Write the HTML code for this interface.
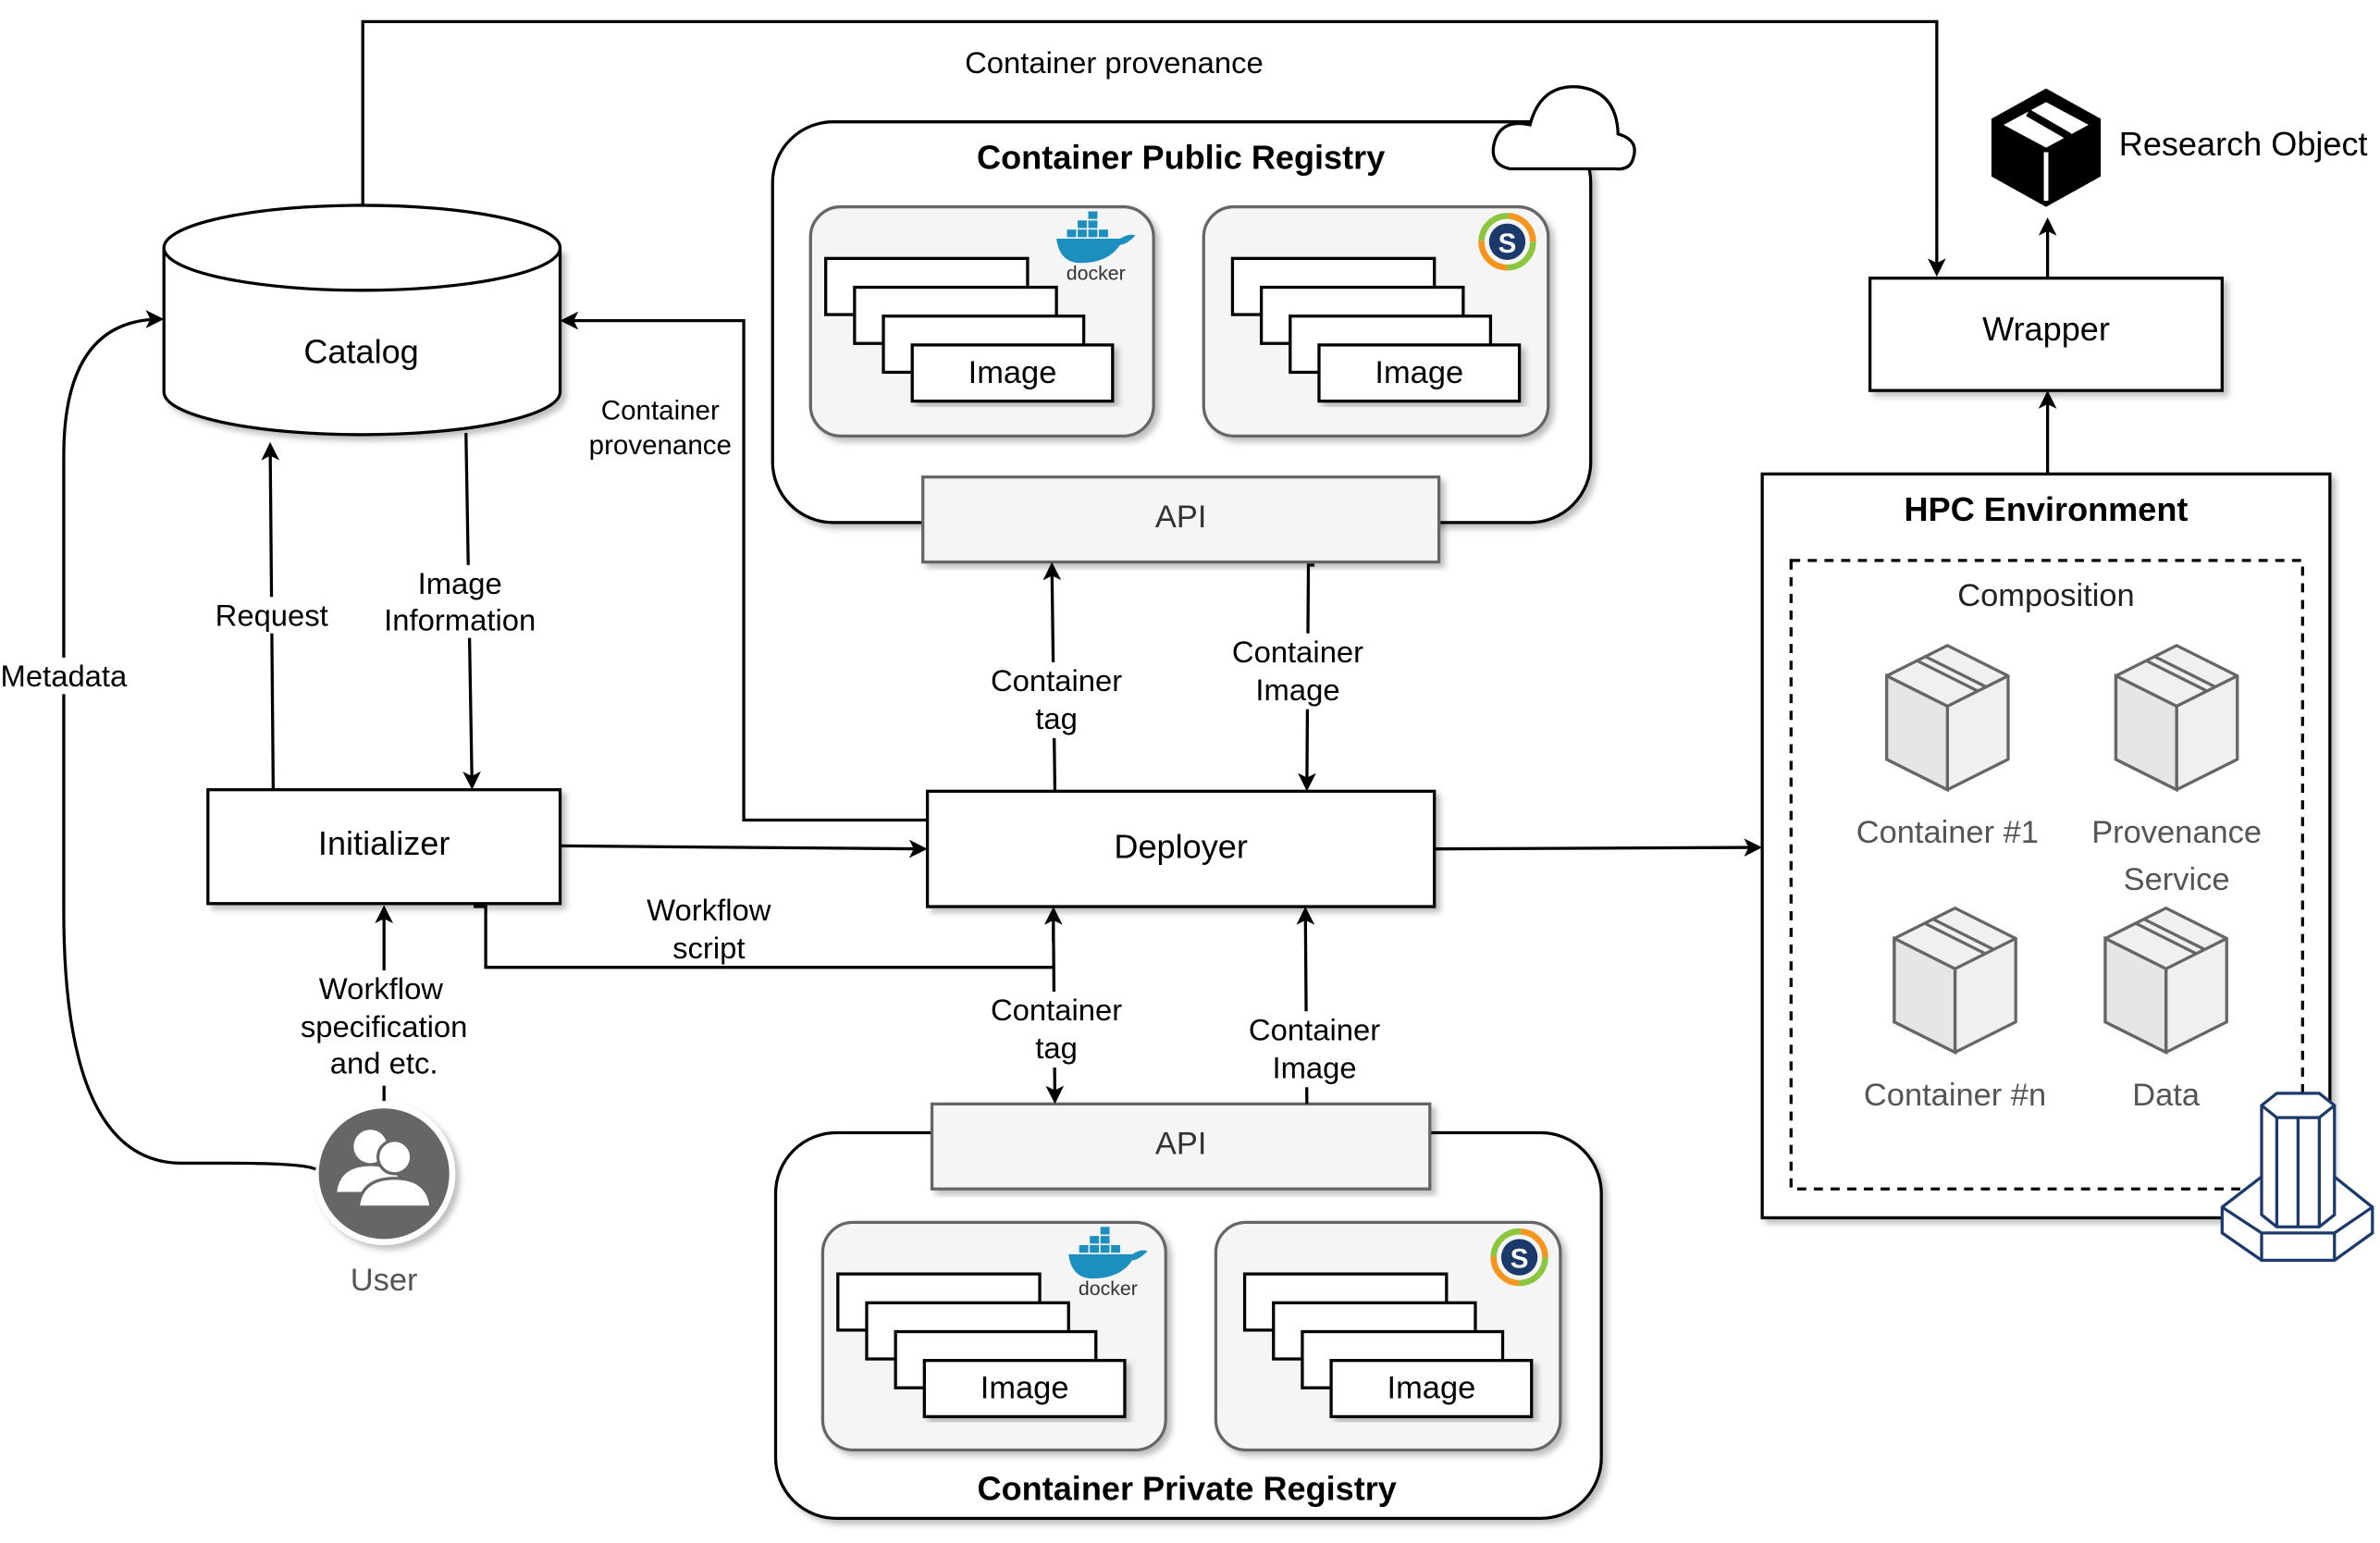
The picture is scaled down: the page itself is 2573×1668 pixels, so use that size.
<!DOCTYPE html>
<html><head><meta charset="utf-8"><style>
html,body{margin:0;padding:0;background:#fff;}
svg{display:block;}
text{font-family:"Liberation Sans",sans-serif;}
</style></head><body>
<svg width="2573" height="1668" viewBox="0 0 1568 1016" xmlns="http://www.w3.org/2000/svg">
<defs>
<marker id="ar" markerWidth="12" markerHeight="12" refX="10" refY="6" orient="auto" markerUnits="userSpaceOnUse">
<path d="M0,0 L12,6 L0,12 L3,6 Z" fill="#000"/></marker>
<filter id="sh" x="-5%" y="-5%" width="115%" height="115%"><feDropShadow dx="3" dy="3" stdDeviation="2" flood-color="#000" flood-opacity="0.25"/></filter>
<g id="stack">
<rect x="0" y="0" width="133" height="37" fill="#fff" stroke="#000" stroke-width="2"/>
<rect x="19" y="19" width="133" height="37" fill="#fff" stroke="#000" stroke-width="2"/>
<rect x="38" y="38" width="132" height="37" fill="#fff" stroke="#000" stroke-width="2"/>
<rect x="57" y="57" width="132" height="37" fill="#fff" stroke="#000" stroke-width="2" filter="url(#sh)"/>
<text x="123" y="82" font-size="21" text-anchor="middle">Image</text>
</g>
<g id="docker">
<g fill="#1d8fbf"><rect x="8" y="6" width="6" height="5"/><rect x="15" y="6" width="6" height="5"/><rect x="15" y="0" width="6" height="5"/><rect x="1" y="12" width="6" height="5"/><rect x="8" y="12" width="6" height="5"/><rect x="15" y="12" width="6" height="5"/><rect x="22" y="12" width="6" height="5"/>
<path d="M-6,18 H36 Q42,14 46,16 Q40,22 36,22 Q28,34 10,34 Q-4,34 -6,18 Z"/></g>
<text x="20" y="45" font-size="13" fill="#333" text-anchor="middle">docker</text>
</g>
<g id="sing">
<circle cx="0" cy="0" r="17" fill="none" stroke="#8cc63f" stroke-width="4" stroke-dasharray="27 27"/>
<circle cx="0" cy="0" r="17" fill="none" stroke="#f7941d" stroke-width="4" stroke-dasharray="0 27 27 0"/>
<circle cx="0" cy="0" r="12" fill="#1b3a6b"/>
<text x="0" y="7" font-size="18" font-weight="bold" fill="#fff" text-anchor="middle">S</text>
</g>
<g id="cube">
<path d="M0,20 L40,0 L80,20 L80,75 L40,95 L0,75 Z" fill="#f0f0f0" stroke="#666" stroke-width="2"/>
<path d="M0,20 L40,40 L80,20 M40,40 L40,95" fill="none" stroke="#666" stroke-width="2"/>
<path d="M20,10 L60,30 M25,7 L65,27" fill="none" stroke="#666" stroke-width="2"/>
<path d="M0,20 L40,40 L40,95 L0,75 Z" fill="#e6e6e6" stroke="#666" stroke-width="2"/>
</g>
</defs>

<!-- top provenance line -->
<polyline points="239,135 239,14 1276,14 1276,180" fill="none" stroke="#000" stroke-width="2" marker-end="url(#ar)"/>
<text x="734" y="48" font-size="20" text-anchor="middle">Container provenance</text>

<!-- Catalog -->
<path d="M108,163 L108,258 A130,28 0 0 0 369,258 L369,163" fill="#fff" stroke="#000" stroke-width="2" filter="url(#sh)"/>
<ellipse cx="238.5" cy="163" rx="130.5" ry="28" fill="#fff" stroke="#000" stroke-width="2"/>
<text x="238" y="239" font-size="22" text-anchor="middle">Catalog</text>

<!-- Public registry -->
<rect x="509" y="80" width="539" height="264" rx="40" fill="#fff" stroke="#000" stroke-width="2" filter="url(#sh)"/>
<text x="778" y="111" font-size="22" font-weight="bold" text-anchor="middle">Container Public Registry</text>
<path d="M995,111 Q980,108 985,92 Q990,78 1008,82 Q1015,55 1040,57 Q1065,60 1066,88 Q1080,92 1076,104 Q1074,112 1064,111 Z" fill="#fff" stroke="#000" stroke-width="2"/>
<rect x="534" y="136" width="226" height="151" rx="20" fill="#f5f5f5" stroke="#666" stroke-width="2" filter="url(#sh)"/>
<rect x="793" y="136" width="227" height="151" rx="20" fill="#f5f5f5" stroke="#666" stroke-width="2" filter="url(#sh)"/>
<use href="#stack" x="544" y="170"/>
<use href="#stack" x="812" y="170"/>
<use href="#docker" x="702" y="139"/>
<use href="#sing" x="993" y="159"/>
<rect x="608" y="314" width="340" height="56" fill="#f5f5f5" stroke="#666" stroke-width="2" filter="url(#sh)"/>
<text x="778" y="347" font-size="21" text-anchor="middle" fill="#333">API</text>

<!-- Wrapper / RO -->
<rect x="1232" y="183" width="232" height="74" fill="#fff" stroke="#000" stroke-width="2" filter="url(#sh)"/>
<text x="1348" y="224" font-size="22" text-anchor="middle">Wrapper</text>
<g>
<path d="M1312,78 L1348,58 L1384,78 L1384,116 L1348,136 L1312,116 Z" fill="#000"/>
<path d="M1320,82 L1348,67 L1376,82 L1348,97 Z" fill="#fff"/>
<path d="M1336,74 L1362,89 L1362,104" fill="none" stroke="#000" stroke-width="5"/>
<path d="M1348,100 L1348,132" stroke="#fff" stroke-width="3"/>
</g>
<text x="1396" y="102" font-size="22">Research Object</text>

<!-- HPC -->
<rect x="1161" y="312" width="374" height="490" fill="#fff" stroke="#000" stroke-width="2" filter="url(#sh)"/>
<text x="1348" y="343" font-size="22" font-weight="bold" text-anchor="middle">HPC Environment</text>
<rect x="1180" y="369" width="337" height="414" fill="none" stroke="#000" stroke-width="2" stroke-dasharray="6 5"/>
<text x="1348" y="399" font-size="21" text-anchor="middle" fill="#222">Composition</text>
<use href="#cube" x="1243" y="425"/>
<use href="#cube" x="1394" y="425"/>
<use href="#cube" x="1248" y="598"/>
<use href="#cube" x="1387" y="598"/>
<g font-size="21" fill="#555" text-anchor="middle">
<text x="1283" y="555">Container #1</text>
<text x="1434" y="555">Provenance</text>
<text x="1434" y="586">Service</text>
<text x="1288" y="728">Container #n</text>
<text x="1427" y="728">Data</text>
</g>
<!-- database icon -->
<g fill="#fff" stroke="#1b3a6b" stroke-width="2">
<path d="M1464,795 L1490,775 L1538,775 L1563,795 L1563,812 L1538,830 L1490,830 L1464,812 Z"/>
<path d="M1464,795 L1490,812 L1538,812 L1563,795 M1490,812 L1490,830 M1538,812 L1538,830"/>
<path d="M1490,728 L1500,720 L1528,720 L1538,728 L1538,800 L1528,808 L1500,808 L1490,800 Z"/>
<path d="M1490,728 L1500,736 L1528,736 L1538,728 M1500,736 L1500,808 M1528,736 L1528,808 M1514,736 L1514,808"/>
</g>

<!-- Initializer / Deployer -->
<rect x="137" y="520" width="232" height="75" fill="#fff" stroke="#000" stroke-width="2" filter="url(#sh)"/>
<text x="253" y="563" font-size="22" text-anchor="middle">Initializer</text>
<rect x="611" y="521" width="334" height="76" fill="#fff" stroke="#000" stroke-width="2" filter="url(#sh)"/>
<text x="778" y="565" font-size="22" text-anchor="middle">Deployer</text>

<!-- Private registry -->
<rect x="511" y="746" width="544" height="254" rx="40" fill="#fff" stroke="#000" stroke-width="2" filter="url(#sh)"/>
<rect x="542" y="805" width="226" height="150" rx="20" fill="#f5f5f5" stroke="#666" stroke-width="2" filter="url(#sh)"/>
<rect x="801" y="805" width="227" height="150" rx="20" fill="#f5f5f5" stroke="#666" stroke-width="2" filter="url(#sh)"/>
<use href="#stack" x="552" y="839"/>
<use href="#stack" x="820" y="839"/>
<use href="#docker" x="710" y="808"/>
<use href="#sing" x="1001" y="828"/>
<rect x="614" y="727" width="328" height="56" fill="#f5f5f5" stroke="#666" stroke-width="2" filter="url(#sh)"/>
<text x="778" y="760" font-size="21" text-anchor="middle" fill="#333">API</text>
<text x="782" y="988" font-size="22" font-weight="bold" text-anchor="middle">Container Private Registry</text>

<!-- User -->
<circle cx="253" cy="773" r="45" fill="#666" stroke="#fff" stroke-width="4" filter="url(#sh)"/>
<g fill="#fff">
<circle cx="244" cy="755" r="11"/><path d="M222,785 Q224,768 244,768 Q264,768 266,785 Z"/>
<circle cx="260" cy="762" r="11" stroke="#666" stroke-width="2"/><path d="M236,795 Q238,776 260,776 Q282,776 284,795 Z" stroke="#666" stroke-width="2"/>
</g>
<text x="253" y="850" font-size="21" text-anchor="middle" fill="#555">User</text>

<!-- connectors -->
<g fill="none" stroke="#000" stroke-width="2">
<path d="M180,520 L178,293" marker-end="url(#ar)"/>
<path d="M307,285 L311,518" marker-end="url(#ar)"/>
<path d="M611,540 L490,540 L490,211 L371,211" marker-end="url(#ar)"/>
<path d="M369,557 L609,559" marker-end="url(#ar)"/>
<path d="M312,597 L320,597 L320,637 L694,637"/>
<path d="M695,521 L693,372" marker-end="url(#ar)"/>
<path d="M866,372 L862,372 L861,519" marker-end="url(#ar)"/>
<path d="M694,620 L694,599" marker-end="url(#ar)"/>
<path d="M694,610 L695,725" marker-end="url(#ar)"/>
<path d="M861,727 L860,599" marker-end="url(#ar)"/>
<path d="M253,725 L253,598" marker-end="url(#ar)"/>
<path d="M208,770 Q200,766 150,766 L120,766 Q42,766 42,600 L42,300 Q42,210 106,210" marker-end="url(#ar)"/>
<path d="M945,559 L1159,558" marker-end="url(#ar)"/>
<path d="M1349,312 L1349,259" marker-end="url(#ar)"/>
<path d="M1349,183 L1349,145" marker-end="url(#ar)"/>
</g>

<!-- labels with white bg -->
<g font-size="20" text-anchor="middle">
<rect x="138" y="393" width="82" height="24" fill="#fff"/><text x="179" y="412">Request</text>
<rect x="250" y="372" width="106" height="48" fill="#fff"/><text x="303" y="391">Image</text><text x="303" y="415">Information</text>
<rect x="385" y="258" width="100" height="46" fill="#fff"/><text x="435" y="276" font-size="18">Container</text><text x="435" y="299" font-size="18">provenance</text>
<text x="467" y="606">Workflow</text><text x="467" y="631">script</text>
<rect x="648" y="436" width="96" height="50" fill="#fff"/><text x="696" y="455">Container</text><text x="696" y="480">tag</text>
<rect x="806" y="417" width="98" height="50" fill="#fff"/><text x="855" y="436">Container</text><text x="855" y="461">Image</text>
<rect x="648" y="653" width="96" height="50" fill="#fff"/><text x="696" y="672">Container</text><text x="696" y="697">tag</text>
<rect x="818" y="666" width="98" height="50" fill="#fff"/><text x="866" y="685">Container</text><text x="866" y="710">Image</text>
<rect x="195" y="639" width="116" height="76" fill="#fff"/><text x="251" y="658">Workflow</text><text x="253" y="683">specification</text><text x="253" y="707">and etc.</text>
<rect x="0" y="433" width="86" height="24" fill="#fff"/><text x="42" y="452">Metadata</text>
</g>
</svg>
</body></html>
